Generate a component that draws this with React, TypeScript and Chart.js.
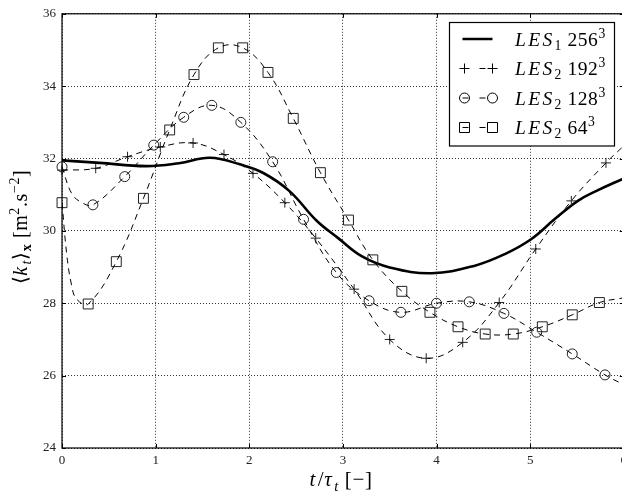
import React, { useEffect, useRef } from 'react';
import { Chart, registerables } from 'chart.js';

Chart.register(...registerables);

const FONT = "'Liberation Serif', 'Times New Roman', serif";

const xTickValues = [0, 1, 2, 3, 4, 5, 6];
const yTickValues = [24, 26, 28, 30, 32, 34, 36];

// LES1 256^3 (solid)
const les1T = [0, 0.4, 0.9, 1.25, 1.58, 1.9, 2.15, 2.43, 2.72, 2.95, 3.2, 3.5, 3.95, 4.41, 4.73, 5.01, 5.26, 5.51, 5.72, 6.0];
const les1K = [31.95, 31.88, 31.79, 31.87, 32.02, 31.84, 31.6, 31.1, 30.28, 29.8, 29.3, 28.99, 28.83, 29.04, 29.36, 29.77, 30.32, 30.83, 31.12, 31.45];

// LES2 192^3 (+)
const les192T = [0, 0.36, 0.70, 1.05, 1.40, 1.73, 2.04, 2.38, 2.71, 3.12, 3.50, 3.89, 4.28, 4.67, 5.06, 5.44, 5.81, 6.0];
const les192K = [31.68, 31.73, 32.05, 32.32, 32.43, 32.11, 31.59, 30.78, 29.80, 28.39, 27.00, 26.48, 26.92, 28.02, 29.50, 30.83, 31.88, 32.35];
const les192MarkT = [0, 0.36, 0.70, 1.05, 1.40, 1.73, 2.04, 2.38, 2.71, 3.12, 3.50, 3.89, 4.28, 4.67, 5.06, 5.44, 5.81];
const les192MarkK = [31.68, 31.73, 32.05, 32.32, 32.43, 32.11, 31.59, 30.78, 29.80, 28.39, 27.00, 26.48, 26.92, 28.02, 29.50, 30.83, 31.88];

// LES2 128^3 (o)
const les128T = [0, 0.1, 0.2, 0.33, 0.67, 0.98, 1.30, 1.60, 1.91, 2.25, 2.58, 2.93, 3.28, 3.62, 4.00, 4.35, 4.72, 5.07, 5.45, 5.80, 6.0];
const les128K = [31.77, 31.05, 30.8, 30.72, 31.50, 32.37, 33.14, 33.47, 33.00, 31.91, 30.32, 28.85, 28.07, 27.75, 28.00, 28.04, 27.72, 27.20, 26.60, 26.02, 25.75];
const les128MarkT = [0, 0.33, 0.67, 0.98, 1.30, 1.60, 1.91, 2.25, 2.58, 2.93, 3.28, 3.62, 4.00, 4.35, 4.72, 5.07, 5.45, 5.80];
const les128MarkK = [31.77, 30.72, 31.50, 32.37, 33.14, 33.47, 33.00, 31.91, 30.32, 28.85, 28.07, 27.75, 28.00, 28.04, 27.72, 27.20, 26.60, 26.02];

// LES2 64^3 (square)
const les64T = [0, 0.05, 0.10, 0.155, 0.28, 0.58, 0.87, 1.15, 1.41, 1.67, 1.93, 2.20, 2.47, 2.76, 3.06, 3.32, 3.63, 3.93, 4.23, 4.52, 4.82, 5.13, 5.45, 5.74, 6.0];
const les64K = [30.78, 29.37, 28.53, 28.12, 27.98, 29.15, 30.90, 32.79, 34.32, 35.06, 35.06, 34.38, 33.11, 31.61, 30.30, 29.20, 28.33, 27.75, 27.35, 27.15, 27.15, 27.35, 27.68, 28.02, 28.15];
const les64MarkT = [0, 0.28, 0.58, 0.87, 1.15, 1.41, 1.67, 1.93, 2.20, 2.47, 2.76, 3.06, 3.32, 3.63, 3.93, 4.23, 4.52, 4.82, 5.13, 5.45, 5.74];
const les64MarkK = [30.78, 27.98, 29.15, 30.90, 32.79, 34.32, 35.06, 35.06, 34.38, 33.11, 31.61, 30.30, 29.20, 28.33, 27.75, 27.35, 27.15, 27.15, 27.35, 27.68, 28.02];

const legendSub = ['1', '2', '2', '2'];
const legendRes = ['256', '192', '128', '64'];
const legendMarkers = ['line', 'cross', 'circle', 'rect'];

type Run = { t: string; it?: boolean; sub?: boolean; sup?: boolean; b?: boolean };

const yTitleRuns: Run[] = [
  { t: '\u27E8' }, { t: 'k', it: true }, { t: 't', it: true, sub: true }, { t: '\u27E9' }, { t: 'x', sub: true, b: true },
  { t: ' [m' }, { t: '2', sup: true }, { t: '.s' }, { t: '\u22122', sup: true }, { t: ']' },
];
const xTitleRuns: Run[] = [
  { t: 't', it: true }, { t: '/' }, { t: '\u03C4', it: true }, { t: 't', it: true, sub: true }, { t: ' [\u2212]' },
];

const pts = (xs: number[], ys: number[]) => xs.map((x, i) => ({ x, y: ys[i] }));

function setFont(ctx: CanvasRenderingContext2D, r: Run, size: number) {
  const fs = r.sub || r.sup ? size * 0.7 : size;
  ctx.font = `${r.it ? 'italic ' : ''}${r.b ? 'bold ' : ''}${fs}px ${FONT}`;
  return fs;
}
function spacing(r: Run, size: number) {
  return r.it && !r.sub ? size * 0.12 : size * 0.03;
}
function runsWidth(ctx: CanvasRenderingContext2D, runs: Run[], size: number) {
  let w = 0;
  for (const r of runs) {
    setFont(ctx, r, size);
    for (const ch of Array.from(r.t)) w += ctx.measureText(ch).width + spacing(r, size);
  }
  return w;
}
function drawRuns(ctx: CanvasRenderingContext2D, runs: Run[], x: number, y: number, size: number) {
  let cx = x;
  for (const r of runs) {
    setFont(ctx, r, size);
    const dy = r.sub ? size * 0.22 : r.sup ? -size * 0.4 : 0;
    for (const ch of Array.from(r.t)) {
      ctx.fillText(ch, cx, y + dy);
      cx += ctx.measureText(ch).width + spacing(r, size);
    }
  }
}

function drawMarker(ctx: CanvasRenderingContext2D, kind: string, x: number, y: number) {
  ctx.beginPath();
  if (kind === 'cross') {
    ctx.moveTo(x - 5, y); ctx.lineTo(x + 5, y);
    ctx.moveTo(x, y - 5); ctx.lineTo(x, y + 5);
  } else if (kind === 'circle') {
    ctx.arc(x, y, 5, 0, Math.PI * 2);
  } else if (kind === 'rect') {
    ctx.rect(x - 5, y - 5, 10, 10);
  }
  ctx.stroke();
}

const decorPlugin = {
  id: 'decor',
  afterDraw(chart: any) {
    const ctx: CanvasRenderingContext2D = chart.ctx;
    const { left, right, top, bottom } = chart.chartArea;
    const xs = chart.scales.x;
    const ys = chart.scales.y;
    ctx.save();
    // frame
    ctx.strokeStyle = '#000';
    ctx.lineWidth = 1.2;
    ctx.setLineDash([]);
    ctx.strokeRect(left, top, right - left, bottom - top);
    // inward ticks
    ctx.lineWidth = 1;
    ctx.beginPath();
    for (const v of xTickValues) {
      const px = Math.round(xs.getPixelForValue(v)) + 0.5;
      ctx.moveTo(px, bottom); ctx.lineTo(px, bottom - 4);
      ctx.moveTo(px, top); ctx.lineTo(px, top + 4);
    }
    for (const v of yTickValues) {
      const py = Math.round(ys.getPixelForValue(v)) + 0.5;
      ctx.moveTo(left, py); ctx.lineTo(left + 4, py);
      ctx.moveTo(right, py); ctx.lineTo(right - 4, py);
    }
    ctx.stroke();

    // axis titles
    ctx.fillStyle = '#000';
    ctx.textBaseline = 'alphabetic';
    ctx.textAlign = 'left';
    const xs1 = 21;
    const wx = runsWidth(ctx, xTitleRuns, xs1);
    drawRuns(ctx, xTitleRuns, 341 - wx / 2, 486, xs1);

    const ys1 = 20;
    const wy = runsWidth(ctx, yTitleRuns, ys1);
    ctx.save();
    ctx.translate(27, 227);
    ctx.rotate(-Math.PI / 2);
    drawRuns(ctx, yTitleRuns, -wy / 2, 0, ys1);
    ctx.restore();

    // legend
    const bx = 449.5, by = 22.5, bw = 165, bh = 123.5;
    ctx.fillStyle = '#fff';
    ctx.fillRect(bx, by, bw, bh);
    ctx.strokeStyle = '#000';
    ctx.lineWidth = 1.2;
    ctx.strokeRect(bx, by, bw, bh);
    const rowY = [39, 68.5, 98, 127.5];
    for (let i = 0; i < 4; i++) {
      const y = rowY[i];
      ctx.strokeStyle = '#000';
      if (legendMarkers[i] === 'line') {
        ctx.lineWidth = 2.5;
        ctx.setLineDash([]);
        ctx.beginPath(); ctx.moveTo(462.5, y); ctx.lineTo(492.5, y); ctx.stroke();
      } else {
        ctx.lineWidth = 1;
        ctx.setLineDash([6, 11]);
        ctx.beginPath(); ctx.moveTo(462.5, y); ctx.lineTo(492.5, y); ctx.stroke();
        ctx.setLineDash([]);
        drawMarker(ctx, legendMarkers[i], 464.5, y);
        drawMarker(ctx, legendMarkers[i], 492.5, y);
      }
      ctx.fillStyle = '#000';
      drawRuns(ctx, [
        { t: 'LES', it: true }, { t: legendSub[i], sub: true }, { t: ' ' + legendRes[i] }, { t: '3', sup: true },
      ], 515, y + 6.5, 19.5);
    }
    ctx.restore();
  },
};

export default function App() {
  const ref = useRef<HTMLCanvasElement>(null);
  useEffect(() => {
    if (!ref.current) return;
    const dashed = (xs: number[], ys: number[]) => ({
      data: pts(xs, ys),
      borderColor: '#000',
      borderWidth: 1,
      borderDash: [6, 5],
      pointRadius: 0,
      fill: false,
      tension: 0.4,
    });
    const marks = (xs: number[], ys: number[], style: string, r: number) => ({
      data: pts(xs, ys),
      showLine: false,
      pointStyle: style,
      pointRadius: r,
      pointBorderWidth: 1,
      borderColor: '#000',
      pointBorderColor: '#222',
      backgroundColor: 'rgba(0,0,0,0)',
      pointBackgroundColor: 'rgba(0,0,0,0)',
      clip: false,
    });
    const chart = new Chart(ref.current, {
      type: 'line',
      data: {
        datasets: [
          dashed(les192T, les192K),
          marks(les192MarkT, les192MarkK, 'cross', 5),
          dashed(les128T, les128K),
          marks(les128MarkT, les128MarkK, 'circle', 5),
          dashed(les64T, les64K),
          marks(les64MarkT, les64MarkK, 'rect', 7),
          {
            data: pts(les1T, les1K),
            borderColor: '#000',
            borderWidth: 2.6,
            pointRadius: 0,
            fill: false,
            tension: 0.4,
          },
        ] as any,
      },
      options: {
        responsive: false,
        animation: false,
        events: [],
        layout: { padding: { top: 12, right: 8, left: 0, bottom: 0 } },
        plugins: { legend: { display: false }, tooltip: { enabled: false }, title: { display: false } },
        scales: {
          x: {
            type: 'linear',
            min: 0,
            max: 6,
            afterFit: (s: any) => { s.height = 50; },
            afterBuildTicks: (s: any) => { s.ticks = xTickValues.map((v) => ({ value: v })); },
            ticks: { color: '#222', font: { family: FONT, size: 13 }, padding: 5, maxRotation: 0 },
            grid: { color: 'rgba(0,0,0,0.8)', lineWidth: 1, drawTicks: false },
            border: { display: false, dash: [1, 2] },
          },
          y: {
            type: 'linear',
            min: 24,
            max: 36,
            afterFit: (s: any) => { s.width = 62; },
            afterBuildTicks: (s: any) => { s.ticks = yTickValues.map((v) => ({ value: v })); },
            ticks: { color: '#222', font: { family: FONT, size: 13 }, padding: 6 },
            grid: { color: 'rgba(0,0,0,0.8)', lineWidth: 1, drawTicks: false },
            border: { display: false, dash: [1, 2] },
          },
        },
      },
      plugins: [decorPlugin],
    });
    return () => chart.destroy();
  }, []);
  return (
    <div style={{ position: 'fixed', left: 0, top: 0, width: 622, height: 498, overflow: 'hidden', background: '#fff' }}>
      <canvas ref={ref} width={632} height={498} style={{ width: 632, height: 498, display: 'block' }} />
    </div>
  );
}
